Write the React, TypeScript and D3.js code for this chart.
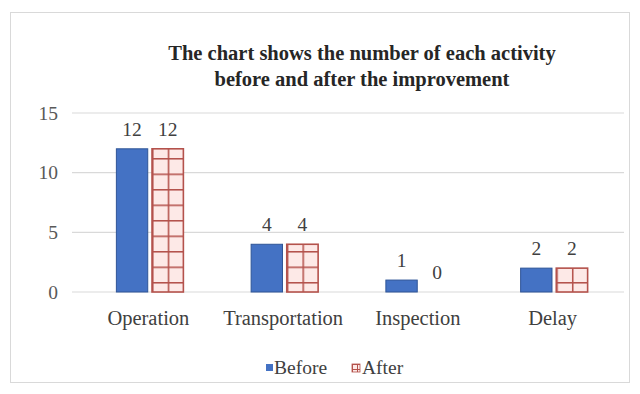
import React from "react";
import * as d3 from "d3";

const categories = ["Operation", "Transportation", "Inspection", "Delay"];
const seriesNames = ["Before", "After"];
const beforeValues = [12, 4, 1, 2];
const afterValues = [12, 4, 0, 2];
const yTicks = [0, 5, 10, 15];
const titleLines = [
  "The chart shows the number of each activity",
  "before and after the improvement",
];

const W = 640;
const H = 394;
const FONT = "'Liberation Serif', 'Times New Roman', serif";

export default function App() {
  const x0 = d3.scaleBand().domain(categories).range([81, 620]);
  const x1 = d3.scaleBand().domain(seriesNames).range([-32, 35]).paddingInner(0.12);
  const y = d3.scaleLinear().domain([0, 15]).range([292, 113]);
  const values = [beforeValues, afterValues];
  const center = (c: string) => (x0(c) as number) + x0.bandwidth() / 2;
  const bw = x1.bandwidth();

  return (
    <svg
      width={W}
      height={H}
      style={{ position: "absolute", left: 0, top: 0, background: "#fff" }}
      fontFamily={FONT}
    >
      <defs>
        {categories.map((c, i) => {
          const bx = center(c) + (x1("After") as number);
          return (
            <pattern
              key={c}
              id={`grid-${i}`}
              patternUnits="userSpaceOnUse"
              x={bx}
              y={y(0) - 10}
              width={bw / 2}
              height={15.5}
            >
              <rect width={bw / 2} height={15.5} fill="#fde9e7" />
              <line x1={0} x2={bw / 2} y1={0.75} y2={0.75} stroke="#b4524c" strokeWidth={1.6} />
              <line x1={0.75} x2={0.75} y1={0} y2={15.5} stroke="#b4524c" strokeWidth={1.6} />
            </pattern>
          );
        })}
        <pattern id="grid-legend" patternUnits="userSpaceOnUse" x={352} y={364} width={5} height={5}>
          <rect width={5} height={5} fill="#fde9e7" />
          <line x1={0} x2={5} y1={0.5} y2={0.5} stroke="#b4524c" strokeWidth={1} />
          <line x1={0.5} x2={0.5} y1={0} y2={5} stroke="#b4524c" strokeWidth={1} />
        </pattern>
      </defs>

      <rect x={10.5} y={12.5} width={619} height={370} fill="#fff" stroke="#d9d9d9" />

      {titleLines.map((t, i) => (
        <text
          key={i}
          x={362}
          y={60 + i * 26}
          textAnchor="middle"
          fontSize={20.5}
          fontWeight="bold"
          fill="#262626"
        >
          {t}
        </text>
      ))}

      {yTicks.map((t) => (
        <g key={t}>
          <line x1={72} x2={624} y1={y(t)} y2={y(t)} stroke="#d9d9d9" strokeWidth={1.2} />
          <text x={58} y={y(t)} dy="0.35em" textAnchor="end" fontSize={19.5} fill="#595959">
            {t}
          </text>
        </g>
      ))}

      {categories.map((c, i) => {
        const cx = center(c);
        return (
          <g key={c}>
            {seriesNames.map((s, si) => {
              const v = values[si][i];
              const bx = cx + (x1(s) as number);
              const top = y(v);
              return (
                <g key={s}>
                  {v > 0 && (
                    <rect
                      x={bx}
                      y={top}
                      width={bw}
                      height={y(0) - top}
                      fill={si === 0 ? "#4472c4" : `url(#grid-${i})`}
                      stroke={si === 0 ? "#2f5597" : "#b4524c"}
                      strokeWidth={si === 0 ? 1 : 1.6}
                    />
                  )}
                  <text
                    x={bx + bw / 2}
                    y={top - 13}
                    textAnchor="middle"
                    fontSize={19.5}
                    fill="#404040"
                  >
                    {v}
                  </text>
                </g>
              );
            })}
            <text x={cx} y={y(0) + 33} textAnchor="middle" fontSize={20.5} fill="#404040">
              {c}
            </text>
          </g>
        );
      })}

      <rect x={266} y={364} width={7} height={7} fill="#4472c4" />
      <text x={274} y={374} fontSize={19.5} fill="#404040">
        {seriesNames[0]}
      </text>
      <rect x={352} y={364} width={8} height={8} fill="url(#grid-legend)" stroke="#b4524c" strokeWidth={0.8} />
      <text x={362} y={374} fontSize={19.5} fill="#404040">
        {seriesNames[1]}
      </text>
    </svg>
  );
}
